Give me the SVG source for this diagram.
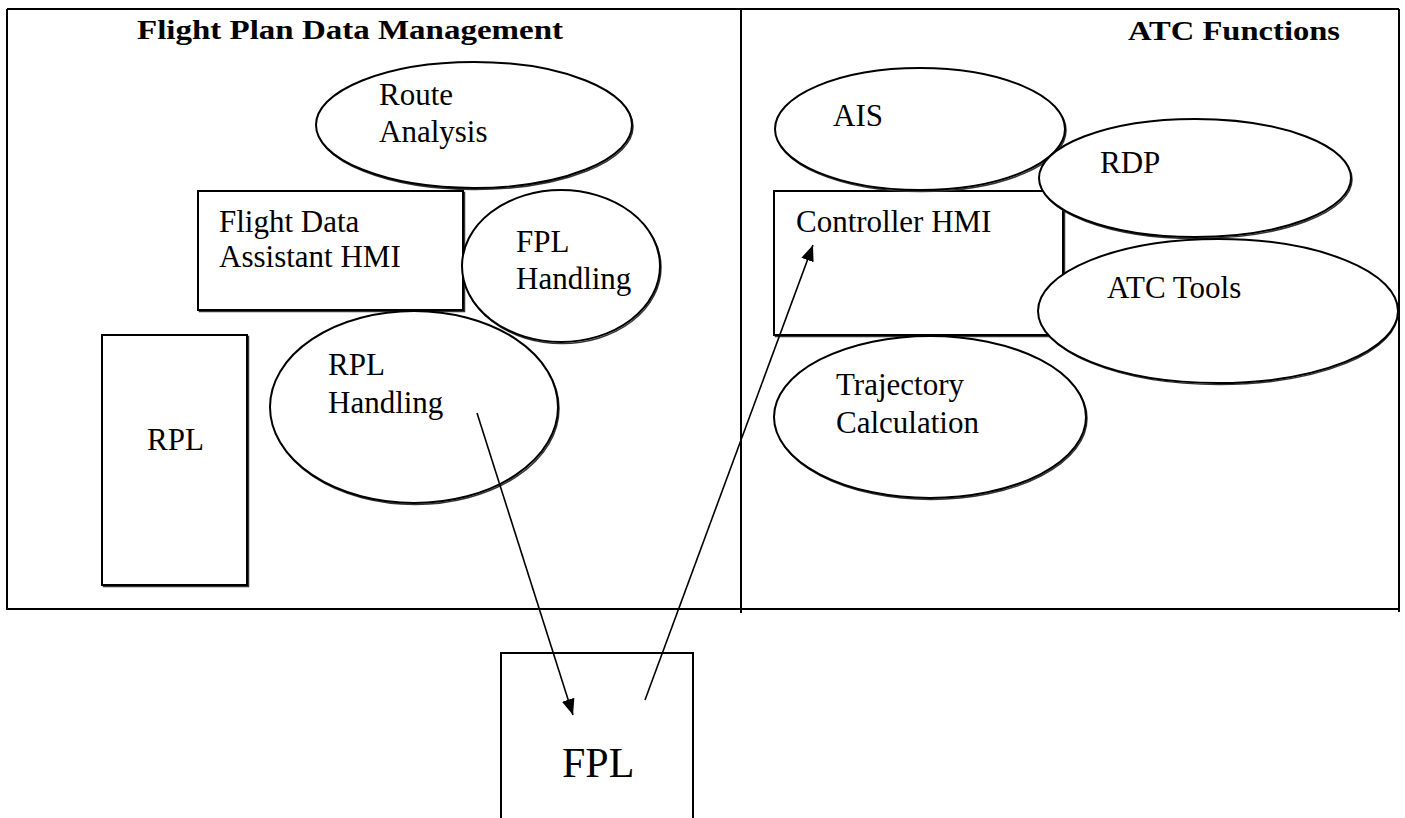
<svg xmlns="http://www.w3.org/2000/svg" width="1405" height="818" viewBox="0 0 1405 818">
  <defs>
    <style>
      .frame { stroke: #000; stroke-width: 2; fill: none; }
      .shape { stroke: #000; stroke-width: 2; fill: #fff; }
      .shadow { stroke: #333; stroke-width: 1.5; fill: none; }
      .label { font-family: "Liberation Serif", "Times New Roman", serif; font-size: 31px; fill: #000; }
      .title { font-family: "Liberation Serif", "Times New Roman", serif; font-size: 28px; font-weight: bold; fill: #000; }
      .big { font-family: "Liberation Serif", "Times New Roman", serif; font-size: 42px; fill: #000; }
      .conn { stroke: #000; stroke-width: 1.6; fill: none; }
    </style>
    <marker id="arrow" markerUnits="userSpaceOnUse" markerWidth="18" markerHeight="14" refX="16" refY="6.5" orient="auto">
      <path d="M0,0 L16,6.5 L0,13 Z" fill="#000"/>
    </marker>
  </defs>

  <rect width="1405" height="818" fill="#fff"/>

  <!-- outer frame split into two panels -->
  <g id="frame">
    <line class="frame" x1="7" y1="9" x2="1399" y2="9"/>
    <line class="frame" x1="7" y1="9" x2="7" y2="610"/>
    <line class="frame" x1="1399" y1="9" x2="1399" y2="612"/>
    <line class="frame" x1="7" y1="609" x2="1399" y2="609"/>
    <line class="frame" x1="741" y1="9" x2="741" y2="613"/>
    <text class="title" x="137" y="39" textLength="426" lengthAdjust="spacingAndGlyphs">Flight Plan Data Management</text>
    <text class="title" x="1128" y="40" textLength="212" lengthAdjust="spacingAndGlyphs">ATC Functions</text>
  </g>

  <!-- Flight Plan Data Management panel -->
  <g id="fda-hmi">
    <rect class="shadow" x="199.5" y="192.5" width="265" height="119"/>
    <rect class="shape" x="198" y="191" width="265" height="119"/>
    <text class="label" x="219" y="232">Flight Data</text>
    <text class="label" x="219" y="267">Assistant HMI</text>
  </g>
  <g id="route-analysis">
    <ellipse class="shadow" cx="475" cy="126.5" rx="158" ry="63"/>
    <ellipse class="shape" cx="474" cy="125" rx="158" ry="63"/>
    <text class="label" x="379" y="105">Route</text>
    <text class="label" x="379" y="142">Analysis</text>
  </g>
  <g id="fpl-handling">
    <ellipse class="shadow" cx="562" cy="267.5" rx="99" ry="76"/>
    <ellipse class="shape" cx="561" cy="266" rx="99" ry="76"/>
    <text class="label" x="516" y="252">FPL</text>
    <text class="label" x="516" y="289">Handling</text>
  </g>
  <g id="rpl">
    <rect class="shadow" x="103.5" y="336.5" width="145" height="250"/>
    <rect class="shape" x="102" y="335" width="145" height="250"/>
    <text class="label" x="147" y="450">RPL</text>
  </g>
  <g id="rpl-handling">
    <ellipse class="shadow" cx="415" cy="408.5" rx="144" ry="96"/>
    <ellipse class="shape" cx="414" cy="407" rx="144" ry="96"/>
    <text class="label" x="328" y="375">RPL</text>
    <text class="label" x="328" y="413">Handling</text>
  </g>

  <!-- ATC Functions panel -->
  <g id="controller-hmi">
    <rect class="shadow" x="775.5" y="192.5" width="289" height="144"/>
    <rect class="shape" x="774" y="191" width="289" height="144"/>
    <text class="label" x="796" y="232">Controller HMI</text>
  </g>
  <g id="ais">
    <ellipse class="shadow" cx="921" cy="130.5" rx="145" ry="61"/>
    <ellipse class="shape" cx="920" cy="129" rx="145" ry="61"/>
    <text class="label" x="833" y="126">AIS</text>
  </g>
  <g id="rdp">
    <ellipse class="shadow" cx="1196" cy="179.5" rx="156" ry="59"/>
    <ellipse class="shape" cx="1195" cy="178" rx="156" ry="59"/>
    <text class="label" x="1100" y="173">RDP</text>
  </g>
  <g id="atc-tools">
    <ellipse class="shadow" cx="1219" cy="312.5" rx="179" ry="72"/>
    <ellipse class="shape" cx="1218" cy="311" rx="180" ry="72"/>
    <text class="label" x="1107" y="298">ATC Tools</text>
  </g>
  <g id="trajectory">
    <ellipse class="shadow" cx="931" cy="418.5" rx="156" ry="81"/>
    <ellipse class="shape" cx="930" cy="417" rx="156" ry="81"/>
    <text class="label" x="836" y="395">Trajectory</text>
    <text class="label" x="836" y="433">Calculation</text>
  </g>

  <!-- flight plan store below the frame -->
  <g id="fpl">
    <rect class="shape" x="501" y="653" width="192" height="200"/>
    <text class="big" x="562" y="777">FPL</text>
  </g>

  <g id="connectors">
    <line class="conn" x1="477" y1="413" x2="573" y2="715" marker-end="url(#arrow)"/>
    <line class="conn" x1="645" y1="700" x2="813" y2="245" marker-end="url(#arrow)"/>
  </g>
</svg>
